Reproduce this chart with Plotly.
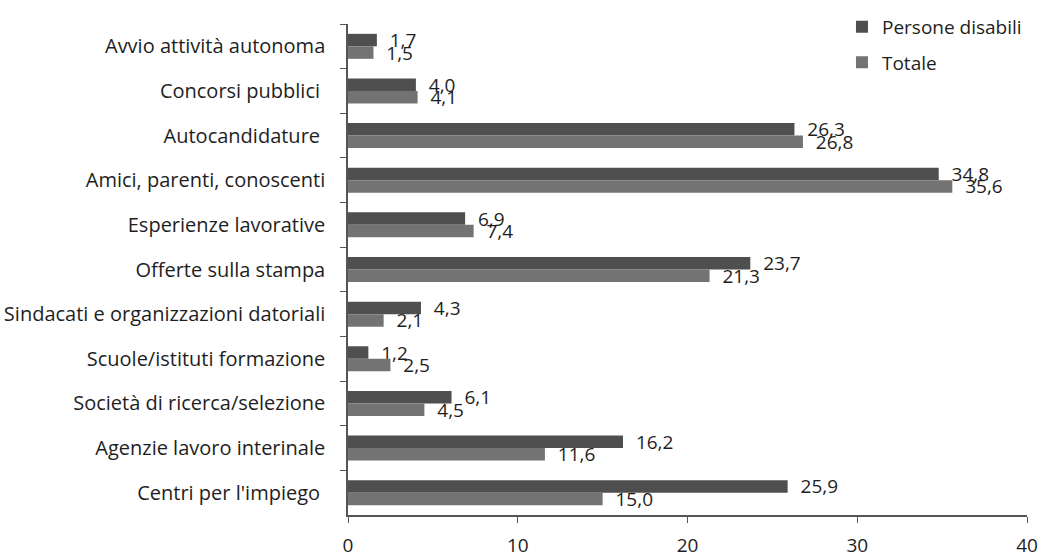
import plotly.graph_objects as go

categories = [
    "Avvio attività autonoma",
    "Concorsi pubblici ",
    "Autocandidature ",
    "Amici, parenti, conoscenti",
    "Esperienze lavorative",
    "Offerte sulla stampa",
    "Sindacati e organizzazioni datoriali",
    "Scuole/istituti formazione",
    "Società di ricerca/selezione",
    "Agenzie lavoro interinale",
    "Centri per l'impiego ",
]
persone_disabili = [1.7, 4.0, 26.3, 34.8, 6.9, 23.7, 4.3, 1.2, 6.1, 16.2, 25.9]
totale = [1.5, 4.1, 26.8, 35.6, 7.4, 21.3, 2.1, 2.5, 4.5, 11.6, 15.0]
x_ticks = [0, 10, 20, 30, 40]


def fmt(v):
    return "\u00a0\u00a0" + f"{v:.1f}".replace(".", ",")


FONT = "'Open Sans', sans-serif"
TXT = "#1e1e1e"

fig = go.Figure()
fig.add_trace(go.Bar(
    name="Persone disabili", y=categories, x=persone_disabili, orientation="h",
    legendgroup="a",
    marker=dict(color="#4f4f4f", line=dict(width=0)),
    text=[fmt(v) for v in persone_disabili], textposition="outside",
    constraintext="none",
    textfont=dict(size=19, color=TXT, family=FONT), cliponaxis=False,
))
fig.add_trace(go.Bar(
    name="Totale", y=categories, x=totale, orientation="h",
    legendgroup="b",
    marker=dict(color="#737373", line=dict(width=0)),
    text=[fmt(v) for v in totale], textposition="outside",
    constraintext="none",
    textfont=dict(size=19, color=TXT, family=FONT), cliponaxis=False,
))

fig.update_layout(
    width=1041, height=559,
    paper_bgcolor="white", plot_bgcolor="white",
    margin=dict(l=348, r=14, t=24, b=44, autoexpand=False),
    barmode="group", bargap=0.44, bargroupgap=0,
    font=dict(family=FONT, size=18, color=TXT),
    showlegend=True,
    legend=dict(x=0.7275, y=1.033, xanchor="left", yanchor="top",
                traceorder="grouped", tracegroupgap=8,
                bgcolor="rgba(0,0,0,0)", font=dict(size=19)),
    xaxis=dict(range=[0, 40], tickvals=x_ticks, showgrid=False, zeroline=False,
               showline=True, linecolor="#555", linewidth=1.5,
               ticks="outside", ticklen=6, tickcolor="#555", automargin=False,
               ticklabelstandoff=6, tickfont=dict(size=19)),
    yaxis=dict(autorange="reversed", showgrid=False, zeroline=False,
               showline=True, linecolor="#555", linewidth=1.5,
               ticks="outside", ticklen=6, tickcolor="#555", automargin=False,
               ticklabelstandoff=17,
               tickson="boundaries", tickfont=dict(size=20)),
)

fig.write_html("out.html", config={"displayModeBar": False},
               post_script="document.body.style.margin='0';")
